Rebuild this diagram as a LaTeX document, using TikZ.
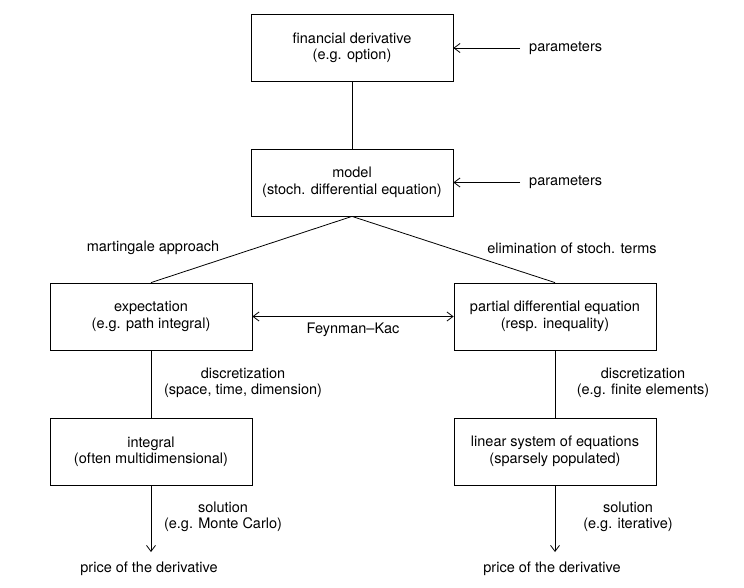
\documentclass[tikz,border=0pt]{standalone}
\usepackage{fontspec}
\setmainfont{TeX Gyre Heros}
\usetikzlibrary{arrows.meta}
\begin{document}
\begin{tikzpicture}[x=1pt,y=-1pt,
  every node/.style={font=\fontsize{14.5}{16.5}\selectfont},
  box/.style={draw, line width=0.8pt, minimum width=202pt, minimum height=67pt, align=center, inner sep=0pt},
  lbl/.style={align=center, inner sep=0pt},
  conn/.style={line width=0.8pt},
  arr/.style={line width=0.8pt, -{Straight Barb[length=6pt,width=9pt]}},
  darr/.style={line width=0.8pt, {Straight Barb[length=6pt,width=9pt]}-{Straight Barb[length=6pt,width=9pt]}}]
\useasboundingbox (0,0) rectangle (744,588);
\node[box] (fd) at (352,48) {financial derivative\\(e.g. option)};
\node[box] (mod) at (352,182.5) {model\\(stoch. differential equation)};
\node[lbl,anchor=west] (p1) at (529,48) {parameters};
\node[lbl,anchor=west] (p2) at (529,182.5) {parameters};
\coordinate (p1s) at (520,48);
\coordinate (p2s) at (520,182.5);
\node[box] (exp) at (151,316.5) {expectation\\(e.g. path integral)};
\node[box] (pde) at (555,316.5) {partial differential equation\\(resp. inequality)};
\node[box] (int) at (151,451.5) {integral\\(often multidimensional)};
\node[box] (lin) at (555,451.5) {linear system of equations\\(sparsely populated)};
\node[lbl] (pr1) at (149,569) {price of the derivative};
\node[lbl] (pr2) at (552,569) {price of the derivative};
\coordinate (e1) at (151,552);
\coordinate (e2) at (555,552);
\node[lbl] (ma) at (153,248) {martingale approach};
\node[lbl] (el) at (572,248) {elimination of stoch. terms};
\node[lbl] (fk) at (353,330) {Feynman–Kac};
\node[lbl] (d1) at (243,383) {discretization\\(space, time, dimension)};
\node[lbl] (d2) at (643,383) {discretization\\(e.g. finite elements)};
\node[lbl] (s1) at (223,517) {solution\\(e.g. Monte Carlo)};
\node[lbl] (s2) at (628,517) {solution\\(e.g. iterative)};
\draw[arr] (p1s) -- (fd.east);
\draw[arr] (p2s) -- (mod.east);
\draw[conn] (fd) -- (mod);
\draw[conn] (mod.south) -- (exp.north);
\draw[conn] (mod.south) -- (pde.north);
\draw[darr] (exp.east) -- (pde.west);
\draw[conn] (exp) -- (int);
\draw[conn] (pde) -- (lin);
\draw[arr] (int.south) -- (e1);
\draw[arr] (lin.south) -- (e2);
\end{tikzpicture}
\end{document}
